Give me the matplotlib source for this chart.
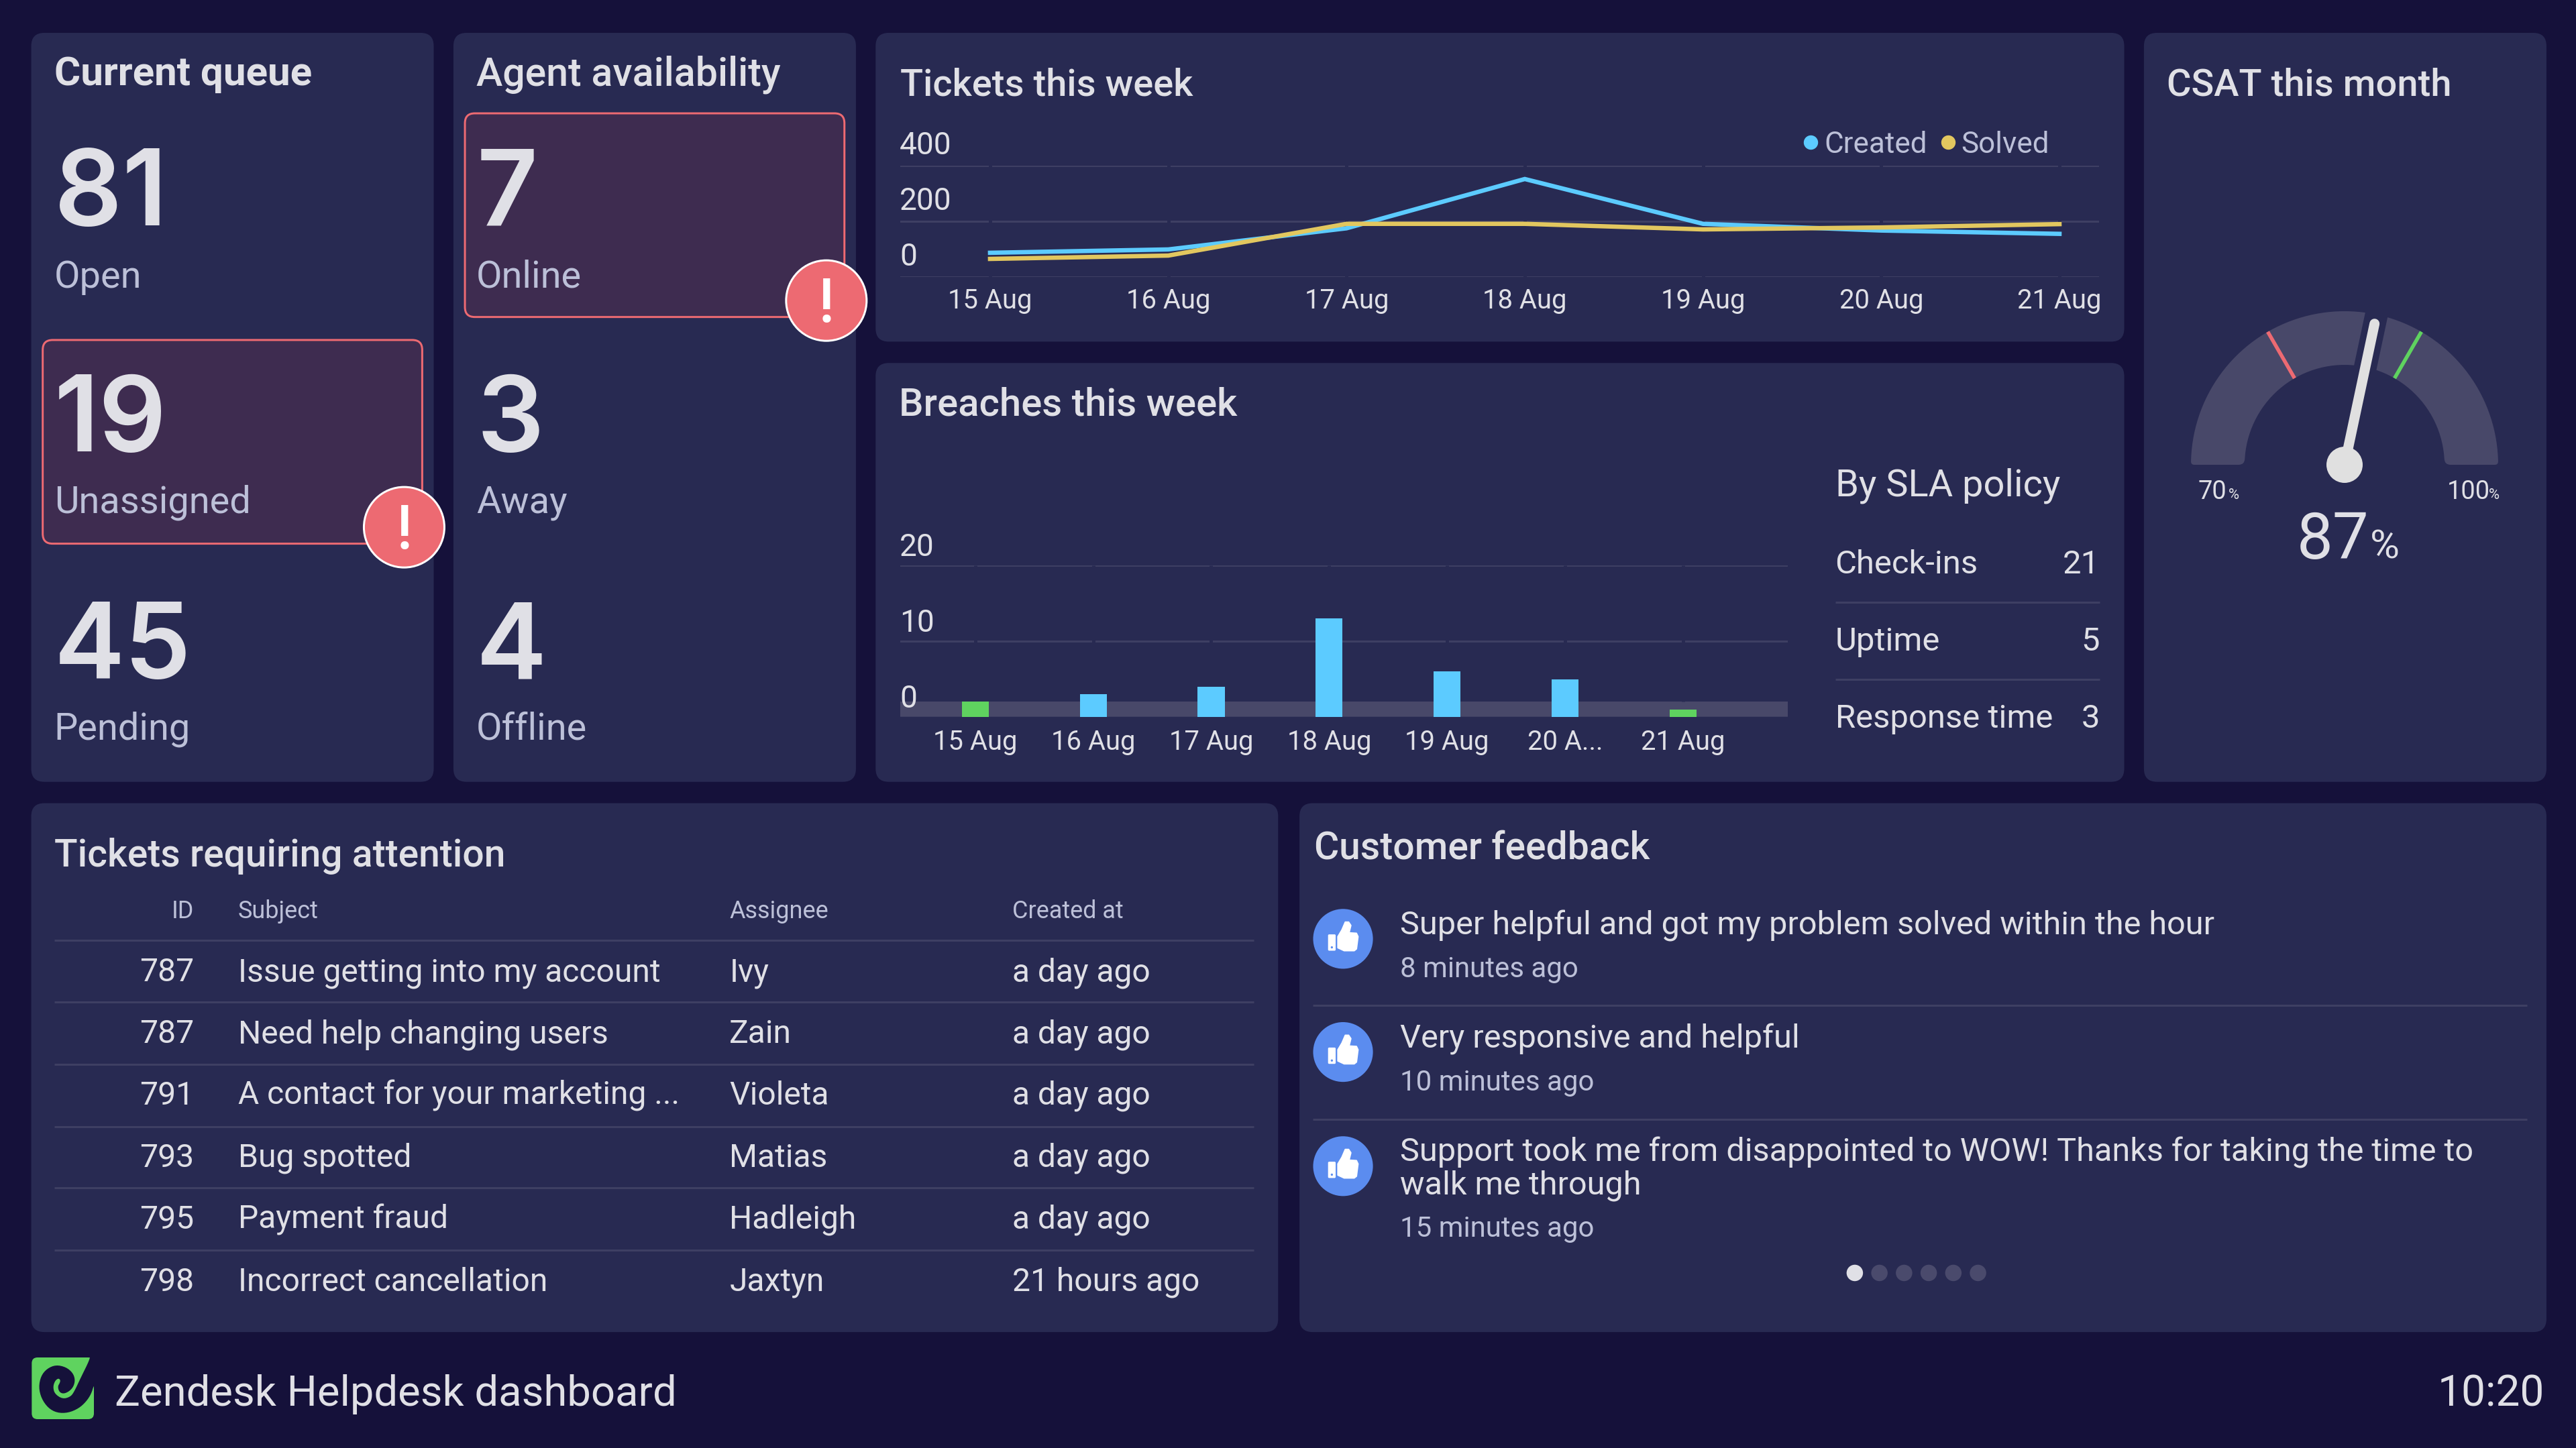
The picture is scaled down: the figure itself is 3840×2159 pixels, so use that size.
import numpy as np
import matplotlib
matplotlib.use("Agg")
import matplotlib.pyplot as plt
from matplotlib.patches import FancyBboxPatch, Circle, Polygon, PathPatch
from matplotlib.path import Path
from matplotlib.lines import Line2D
from matplotlib.transforms import ScaledTranslation

# ---------- data ----------
days = ["15 Aug", "16 Aug", "17 Aug", "18 Aug", "19 Aug", "20 Aug", "21 Aug"]
breach_days = ["15 Aug", "16 Aug", "17 Aug", "18 Aug", "19 Aug", "20 A...", "21 Aug"]
created = [87, 99, 175, 352, 191, 167, 155]
solved = [65, 77, 191, 191, 171, 178, 190]
ticket_ticks = [0, 200, 400]
breaches = [2, 3, 4, 13, 6, 5, 1]
breach_ticks = [0, 10, 20]
breach_target = 2
queue_labels = ["Open", "Unassigned", "Pending"]
queue_values = [81, 19, 45]
agent_labels = ["Online", "Away", "Offline"]
agent_values = [7, 3, 4]
sla_labels = ["Check-ins", "Uptime", "Response time"]
sla_values = [21, 5, 3]
csat_value = 87
csat_min = 70
csat_max = 100
csat_low = 80
csat_high = 90
table_header = ["ID", "Subject", "Assignee", "Created at"]
table_ids = [787, 787, 791, 793, 795, 798]
table_subjects = ["Issue getting into my account", "Need help changing users",
                  "A contact for your marketing ...", "Bug spotted", "Payment fraud",
                  "Incorrect cancellation"]
table_assignees = ["Ivy", "Zain", "Violeta", "Matias", "Hadleigh", "Jaxtyn"]
table_created = ["a day ago"] * 5 + ["21 hours ago"]

# ---------- style ----------
BG = "#15113a"
PANEL = "#282a52"
TEXT = "#e0e0e6"
MUTED = "#bcc0d8"
GRID = "#3e3f63"
BAND = "#484869"
BLUE = "#5ccbff"
YELLOW = "#e2c75f"
GREEN = "#5fd35f"
RED = "#ed6a72"
REDFILL = "#3e2c50"
THUMB = "#5b8cef"
plt.rcParams["font.family"] = ["Roboto", "DejaVu Sans"]

W, H, DPI = 3840, 2159, 100
S = W / 1568.0
fig = plt.figure(figsize=(W / DPI, H / DPI), dpi=DPI, facecolor=BG)
ov = fig.add_axes([0, 0, 1, 1], zorder=0)
ov.set_xlim(0, W / S)
ov.set_ylim(H / S, 0)
ov.axis("off")


def px(p):
    return p * 72.0 / DPI


def T(x, y, s, size, color=TEXT, weight="normal", ha="left", va="baseline", family=None):
    t = ov.text(x, y, s, fontsize=px(size), color=color, fontweight=weight, ha=ha, va=va)
    if family:
        t.set_family(family)
    return t


def panel(x0, y0, x1, y1, fc=PANEL, ec="none", lw=0, r=8):
    ov.add_patch(FancyBboxPatch((x0, y0), x1 - x0, y1 - y0,
                                boxstyle=f"round,pad=0,rounding_size={r}",
                                fc=fc, ec=ec, lw=lw, zorder=1))


def hline(y, x0, x1, color=GRID, lw=3):
    ov.plot([x0, x1], [y, y], color=color, lw=px(lw), solid_capstyle="butt", zorder=2)


def axes_px(x0, y0, x1, y1):
    a = fig.add_axes([x0 / W, 1 - y1 / H, (x1 - x0) / W, (y1 - y0) / H], zorder=2)
    a.patch.set_alpha(0)
    for sp in a.spines.values():
        sp.set_visible(False)
    return a


for box in [(19, 20, 264, 476), (276, 20, 521, 476), (533, 20, 1293, 208), (533, 221, 1293, 476),
            (1305, 20, 1550, 476), (19, 489, 778, 811), (791, 489, 1550, 811)]:
    panel(*box)

T(33, 52, "Current queue", 60, weight="bold")
T(290, 52, "Agent availability", 59, weight="medium")
T(548, 58, "Tickets this week", 56, weight="medium")
T(547, 253, "Breaches this week", 58, weight="medium")
T(1319, 58, "CSAT this month", 56, weight="medium")
T(33, 527.5, "Tickets requiring attention", 57, weight="medium")
T(800, 523, "Customer feedback", 57, weight="medium")

# ---------- stat cards ----------
panel(26, 207, 257, 331, fc=REDFILL, ec=RED, lw=px(3), r=6)
panel(283, 69, 514, 193, fc=REDFILL, ec=RED, lw=px(3), r=6)
rows_y = [(137, 175), (275, 312), (413, 450)]
for x, labels, vals in [(33, queue_labels, queue_values), (290, agent_labels, agent_values)]:
    for (yn, yl), lab, val in zip(rows_y, labels, vals):
        T(x, yn, str(val), 158, weight="semibold", family=["Inter", "DejaVu Sans"])
        T(x, yl, lab, 56, color=MUTED)
for cx, cy in [(246, 321), (503, 183)]:
    ov.add_patch(Circle((cx, cy), 24.5, fc=RED, ec="white", lw=px(3), zorder=3))
    t = T(cx, cy + 13, "!", 90, color="white", weight="medium", ha="center")
    t.set_zorder(4)

TICK = 40
YTICK = 46
# ---------- tickets line chart ----------
ax = axes_px(1342, 247, 3129, 413)
x = np.arange(len(days))
ax.plot(x, created, color=BLUE, lw=px(6.5), solid_joinstyle="miter", zorder=3)
ax.plot(x, solved, color=YELLOW, lw=px(6.5), solid_joinstyle="miter", zorder=4)
ax.set_xlim(-0.504, 6.222)
ax.set_ylim(0, 400)
ax.set_yticks(ticket_ticks)
ax.set_xticks(x, days)
ax.set_axisbelow(True)
ax.grid(axis="y", color=GRID, lw=px(3))
ax.tick_params(length=0, labelcolor=TEXT)
ax.tick_params(axis="x", pad=px(16), labelsize=px(TICK))
ax.tick_params(axis="y", labelsize=px(YTICK))
for c in x:
    ax.axvline(c, color=PANEL, lw=px(5), zorder=1)
off = ScaledTranslation(4 / DPI, 8 / DPI, fig.dpi_scale_trans)
for lb in ax.get_yticklabels():
    lb.set_ha("left")
    lb.set_va("bottom")
    lb.set_transform(lb.get_transform() + off)
handles = [Line2D([], [], marker="o", ls="none", color=BLUE, ms=px(20), label="Created"),
           Line2D([], [], marker="o", ls="none", color=YELLOW, ms=px(20), label="Solved")]
leg = ax.legend(handles=handles, ncol=2, frameon=False, loc="lower right",
                bbox_to_anchor=(0.9585, 1.062), fontsize=px(44), labelcolor=MUTED,
                handlelength=0.4, handletextpad=0.25, columnspacing=0.5, borderpad=0, borderaxespad=0)

# ---------- breaches bars ----------
bx = axes_px(1342, 843, 2665, 1069)
xb = np.arange(len(breaches))
colors = [GREEN if v <= breach_target else BLUE for v in breaches]
bx.axhspan(0, breach_target, color=BAND, lw=0, zorder=0.2)
bx.bar(xb, breaches, width=0.228, color=colors, zorder=3)
bx.set_xlim(-0.637, 6.89)
bx.set_ylim(0, 20)
bx.set_yticks(breach_ticks)
bx.set_xticks(xb, breach_days)
bx.set_axisbelow(True)
bx.grid(axis="y", color=GRID, lw=px(3))
bx.tick_params(length=0, labelcolor=TEXT)
bx.tick_params(axis="x", pad=px(18), labelsize=px(TICK))
bx.tick_params(axis="y", labelsize=px(YTICK))
bx.vlines(xb, breach_target, 20, color=PANEL, lw=px(5), zorder=1)
off2 = ScaledTranslation(4 / DPI, 5 / DPI, fig.dpi_scale_trans)
for lb in bx.get_yticklabels():
    lb.set_ha("left")
    lb.set_va("bottom")
    lb.set_transform(lb.get_transform() + off2)

T(1117, 302, "By SLA policy", 56)
for y, lab, val in zip([349, 396, 443], sla_labels, sla_values):
    T(1117, y, lab, 49)
    T(1278, y, str(val), 49, ha="right")
for y in [366.5, 413.5]:
    hline(y, 1117, 1278)

# ---------- gauge ----------
g = axes_px(3495 - 262, 693 - 250, 3495 + 262, 693 + 60)
g.set_xlim(-262, 262)
g.set_ylim(-60, 250)
g.set_xticks([])
g.set_yticks([])
R, r0 = 229.0, 149.0


def ang(v):
    return np.pi * (1 - (v - csat_min) / (csat_max - csat_min))


co, ci = 5.0, 9.0
ta = np.linspace(co / R, np.pi - co / R, 80)
tb = np.linspace(np.pi - ci / r0, ci / r0, 60)
verts = [(R * np.cos(t), R * np.sin(t)) for t in ta]
codes = [Path.MOVETO] + [Path.LINETO] * (len(ta) - 1)
verts += [(-R, 0), (-R + co, 0), (-r0 - ci, 0), (-r0, 0)]
codes += [Path.CURVE3, Path.CURVE3, Path.LINETO, Path.CURVE3]
verts += [(r0 * np.cos(t), r0 * np.sin(t)) for t in tb]
codes += [Path.CURVE3] + [Path.LINETO] * (len(tb) - 1)
verts += [(r0, 0), (r0 + ci, 0), (R - co, 0), (R, 0), (R * np.cos(ta[0]), R * np.sin(ta[0]))]
codes += [Path.CURVE3, Path.CURVE3, Path.LINETO, Path.CURVE3, Path.CURVE3]
g.add_patch(PathPatch(Path(verts, codes), fc=BAND, ec="none", zorder=1))
for v, col in [(csat_low, RED), (csat_high, GREEN)]:
    a = ang(v)
    g.plot([r0 * np.cos(a), R * np.cos(a)], [r0 * np.sin(a), R * np.sin(a)], color=col,
           lw=px(5.5), solid_capstyle="butt", zorder=2)
a = ang(csat_value)
g.plot([0, 240 * np.cos(a)], [0, 240 * np.sin(a)], color=PANEL, lw=px(34),
       solid_capstyle="butt", zorder=3)
g.plot([0, 215 * np.cos(a)], [0, 215 * np.sin(a)], color="#e0e0e0", lw=px(15),
       solid_capstyle="round", zorder=4)
g.add_patch(Circle((0, 0), 27, fc="#e0e0e0", ec="none", zorder=5))

T(1338, 304, str(csat_min), 38)
T(1356.5, 304, "%", 22)
T(1489.5, 304, str(csat_max), 38)
T(1515, 304, "%", 22)
T(1398, 340, str(csat_value), 96)
T(1442.5, 340, "%", 60)

# ---------- table ----------
cols = [118, 145, 444, 616]
T(cols[0], 559, table_header[0], 36, color=MUTED, ha="right")
for cx, lab in zip(cols[1:], table_header[1:]):
    T(cx, 559, lab, 36, color=MUTED)
for y in [572.5, 610, 648, 686, 723, 761]:
    hline(y, 33, 763)
base = [597.5, 635, 672.5, 710.5, 748, 786]
for y, i, s, n, c in zip(base, table_ids, table_subjects, table_assignees, table_created):
    T(cols[0], y, str(i), 48, ha="right")
    T(cols[1], y, s, 48)
    T(cols[2], y, n, 48)
    T(cols[3], y, c, 48)

# ---------- feedback ----------
hline(612, 799, 1538)
hline(681.5, 799, 1538)
TXT = 48.6
T(852, 569, "Super helpful and got my problem solved within the hour", TXT)
T(852, 595, "8 minutes ago", 42, color=MUTED)
T(852, 638, "Very responsive and helpful", TXT)
T(852, 664, "10 minutes ago", 42, color=MUTED)
T(852, 707, "Support took me from disappointed to WOW! Thanks for taking the time to", TXT)
T(852, 727, "walk me through", TXT)
T(852, 753, "15 minutes ago", 42, color=MUTED)

hand = np.array([(132, 155), (150, 125), (165, 90), (180, 90), (190, 105), (182, 138), (215, 140),
                 (222, 155), (215, 210), (205, 218), (160, 218), (132, 205)], float)
for cy in [571.6, 640.5, 710]:
    cx = 817.5
    ov.add_patch(Circle((cx, cy), 18.2, fc=THUMB, ec="none", zorder=3))
    sc = 1 / 3.0 / S
    pts = (hand - [155, 165]) * sc + [cx, cy]
    ov.add_patch(Polygon(pts, fc="white", ec="white", lw=px(2), joinstyle="round", zorder=4))
    ov.add_patch(FancyBboxPatch((cx + (88 - 155) * sc, cy + (145 - 165) * sc), 34 * sc, 73 * sc,
                                boxstyle=f"round,pad=0,rounding_size={5 * sc}", fc="white", ec="none", zorder=4))
    ov.add_patch(Circle((cx + (105 - 155) * sc, cy + (203 - 165) * sc), 5 * sc, fc=THUMB, ec="none", zorder=5))

for i, dx in enumerate([1129, 1144, 1159, 1174, 1189, 1204]):
    ov.add_patch(Circle((dx, 775), 5, fc=TEXT if i == 0 else "#4a4a6c", ec="none", zorder=3))


# ---------- footer ----------
def chaikin(p, n=2):
    p = np.asarray(p, float)
    for _ in range(n):
        q = np.roll(p, -1, axis=0)
        p = np.column_stack([0.75 * p + 0.25 * q, 0.25 * p + 0.75 * q]).reshape(-1, 2)
    return p


def logo_xy(p):
    p = np.asarray(p, float)
    return np.column_stack([(30 + p[:, 0] / 3) / S, (2010 + p[:, 1] / 3) / S])


(lx0, ly0), (lx1, ly1) = logo_xy([(52, 42), (330, 318)])
panel(lx0, ly0, lx1, ly1, fc=GREEN, r=3.5)
swirl = [(330, 165), (318, 205), (295, 240), (262, 270), (215, 290), (165, 290), (125, 268), (95, 225),
         (83, 175), (93, 125), (120, 92), (160, 75), (205, 85), (235, 110), (246, 140), (240, 170),
         (222, 192), (195, 205), (175, 197), (168, 172), (178, 155), (180, 142), (170, 135), (155, 148),
         (147, 175), (155, 205), (190, 228), (225, 218), (242, 195), (270, 135), (312, 50), (312, 30),
         (345, 30), (345, 165)]
ov.add_patch(Polygon(logo_xy(chaikin(swirl)), fc=BG, ec="none", zorder=2))
T(70, 856, "Zendesk Helpdesk dashboard", 63.4)
T(1549, 856, "10:20", 64, ha="right")

fig.savefig("out.png", dpi=DPI, facecolor=BG)
